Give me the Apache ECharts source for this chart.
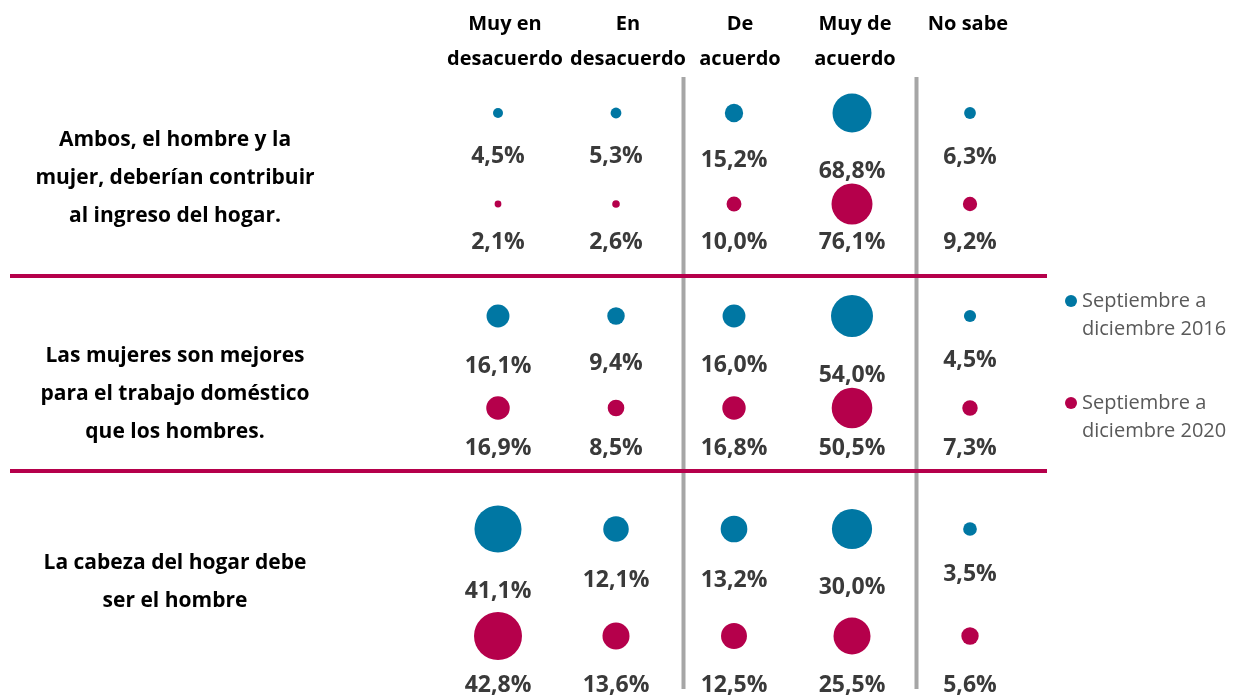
<!DOCTYPE html>
<html>
<head>
<meta charset="utf-8">
<script src="https://cdn.jsdelivr.net/npm/echarts@6/dist/echarts.min.js"></script>
<style>
  html, body { margin: 0; padding: 0; background: #fff; }
  #chart { width: 1237px; height: 695px; }
</style>
</head>
<body>
<div id="chart"></div>
<script>
"use strict";
var fontName = "'Open Sans', 'Noto Sans', sans-serif";
var blue = '#0077A3';
var red = '#B5004B';

var categories = ['Muy en\ndesacuerdo', 'En\ndesacuerdo', 'De\nacuerdo', 'Muy de\nacuerdo', 'No sabe'];
var statements = [
	'Ambos, el hombre y la\nmujer, deberían contribuir\nal ingreso del hogar.',
	'Las mujeres son mejores\npara el trabajo doméstico\nque los hombres.',
	'La cabeza del hogar debe\nser el hombre'
];
var periods = ['Septiembre a\ndiciembre 2016', 'Septiembre a\ndiciembre 2020'];

var values2016 = [
	[4.5, 5.3, 15.2, 68.8, 6.3],
	[16.1, 9.4, 16.0, 54.0, 4.5],
	[41.1, 12.1, 13.2, 30.0, 3.5]
];
var values2020 = [
	[2.1, 2.6, 10.0, 76.1, 9.2],
	[16.9, 8.5, 16.8, 50.5, 7.3],
	[42.8, 13.6, 12.5, 25.5, 5.6]
];

// headers are not quite centred over their column in the original
var headerShift = [7, 12, 6, 3, -2];

// each row is its own little bubble chart, biggest bubble per row
// lowOffset: 2020 labels sit on the bottom edge of the row
var rowGrids = [
	{ top: 67.5, height: 182, maxSize: 41, lowOffset: 38 },
	{ top: 270, height: 184, maxSize: 42, lowOffset: 40 },
	{ top: 475.5, height: 214, maxSize: 48, lowOffset: 49 }
];

function fmt(v) {
	return v.toFixed(1).replace('.', ',') + '%';
}

var headerRich = {};
headerShift.forEach(function(s, i) {
	headerRich['h' + i] = {
		fontFamily : fontName,
		fontSize : 20,
		fontWeight : 'bold',
		lineHeight : 35,
		color : '#000',
		padding : s >= 0 ? [0, 0, 0, 2 * s] : [0, -2 * s, 0, 0]
	};
});

var grids = [], xAxes = [], yAxes = [], series = [];

rowGrids.forEach(function(g, r) {
	grids.push({ left: 439, width: 590, top: g.top, height: g.height });
	xAxes.push({
		type : 'category',
		gridIndex : r,
		data : categories,
		position : 'top',
		axisLine : { show : false },
		axisTick : { show : false },
		splitLine : { show : false },
		axisLabel : {
			show : r === 0,
			interval : 0,
			margin : 61,
			verticalAlign : 'top',
			formatter : function(val, idx) {
				return val.split('\n').map(function(line) {
					return '{h' + idx + '|' + line + '}';
				}).join('\n');
			},
			rich : headerRich
		}
	});
	yAxes.push({
		type : 'category',
		gridIndex : r,
		data : ['2016', '2020'],
		inverse : true,
		show : false
	});

	var rowMax = Math.max.apply(null, values2016[r].concat(values2020[r]));
	[values2016[r], values2020[r]].forEach(function(vals, k) {
		var lbl = {
			show : true,
			fontFamily : fontName,
			fontSize : 23,
			fontWeight : 'bold',
			color : '#3A3A3A',
			formatter : function(p) { return fmt(p.value[2]); }
		};
		if (k === 0) {
			lbl.position = 'bottom';
			lbl.distance = 27;
		} else {
			lbl.position = 'inside';
			lbl.offset = [0, g.lowOffset];
		}
		series.push({
			name : periods[k],
			type : 'scatter',
			xAxisIndex : r,
			yAxisIndex : r,
			color : k === 0 ? blue : red,
			itemStyle : { opacity : 1 },
			clip : false,
			symbolSize : function(val) {
				return g.maxSize * Math.sqrt(val[2] / rowMax);
			},
			label : lbl,
			data : vals.map(function(v, i) { return [i, k, v]; })
		});
	});
});

var graphics = [];
[683.5, 916.5].forEach(function(x) {
	graphics.push({
		type : 'line', z : 1,
		shape : { x1 : x, y1 : 77, x2 : x, y2 : 689 },
		style : { stroke : '#A6A6A6', lineWidth : 4 }
	});
});
[276, 471].forEach(function(y) {
	graphics.push({
		type : 'line', z : 2,
		shape : { x1 : 10, y1 : y, x2 : 1047, y2 : y },
		style : { stroke : red, lineWidth : 4 }
	});
});
[178, 394, 582].forEach(function(y, i) {
	graphics.push({
		type : 'text', z : 3,
		x : 175, y : y,
		style : {
			text : statements[i],
			align : 'center',
			verticalAlign : 'middle',
			fontFamily : fontName,
			fontSize : 21,
			fontWeight : 'bold',
			lineHeight : 38,
			fill : '#000'
		}
	});
});

var chart = echarts.init(document.getElementById('chart'));
chart.setOption({
	animation : false,
	grid : grids,
	xAxis : xAxes,
	yAxis : yAxes,
	legend : {
		data : periods,
		orient : 'vertical',
		left : 1065,
		top : 287,
		padding : 0,
		itemGap : 46,
		itemWidth : 12,
		itemHeight : 40,
		icon : 'path://M0,6a6,6 0 1,0 12,0a6,6 0 1,0 -12,0zM6,40L6,40',
		selectedMode : false,
		textStyle : {
			fontFamily : fontName,
			fontSize : 20,
			lineHeight : 28,
			color : '#595959'
		}
	},
	graphic : graphics,
	series : series
});
</script>
</body>
</html>
